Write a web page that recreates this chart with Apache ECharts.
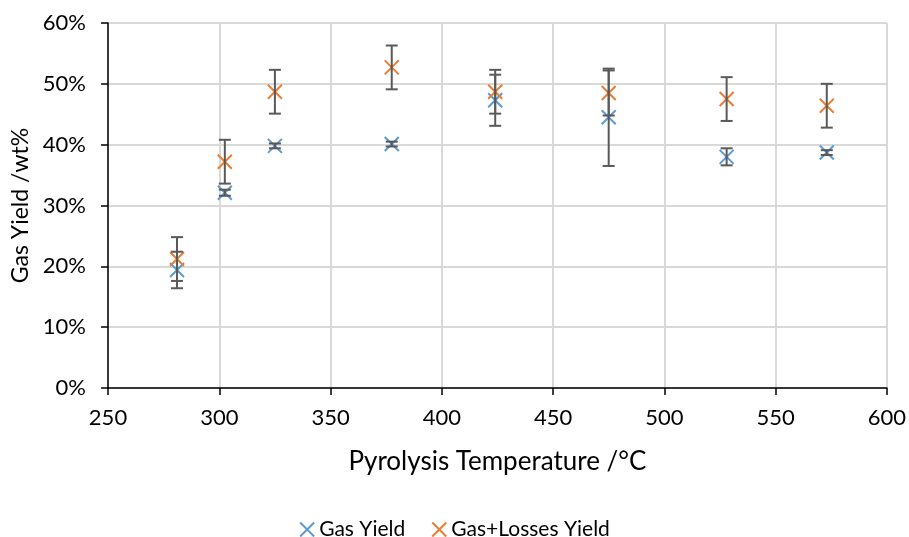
<!DOCTYPE html>
<html>
<head>
<meta charset="utf-8">
<script src="https://cdn.jsdelivr.net/npm/echarts@6/dist/echarts.min.js"></script>
<style>html,body{margin:0;padding:0;background:#fff;}#c{width:909px;height:537px;}</style>
</head>
<body>
<div id="c"></div>
<script>
var temps = [281, 302.5, 325, 377.5, 424, 475, 528, 573];
var gasYield = [19.4, 32.1, 39.8, 40.1, 47.3, 44.5, 38.0, 38.7];
var gasYieldErr = [3.0, 0.5, 0.4, 0.4, 4.2, 8.0, 1.4, 0.4];
var gasLossYield = [21.2, 37.2, 48.7, 52.7, 48.7, 48.5, 47.5, 46.4];
var gasLossErr = [3.6, 3.6, 3.6, 3.6, 3.6, 3.7, 3.6, 3.6];
var xTicks = [250, 300, 350, 400, 450, 500, 550, 600];
var yTicks = [0, 10, 20, 30, 40, 50, 60];

var FONT = 'Lato, "Open Sans", sans-serif';
var BLUE = '#5b9bd5', ORANGE = '#ed7d31', ERR = '#595959';
var XPATH = 'path://M0,0 L10,10 M10,0 L0,10';

function pts(v) { return temps.map(function (t, i) { return [t, v[i]]; }); }
function errData(v, e) { return temps.map(function (t, i) { return [t, v[i] - e[i], v[i] + e[i]]; }); }

function errRender(params, api) {
  var x = api.value(0), lo = api.value(1), hi = api.value(2);
  var pLo = api.coord([x, lo]), pHi = api.coord([x, hi]);
  var hw = 6;
  var st = { stroke: ERR, lineWidth: 2 };
  return {
    type: 'group',
    children: [
      { type: 'line', shape: { x1: pLo[0], y1: pLo[1], x2: pHi[0], y2: pHi[1] }, style: st },
      { type: 'line', shape: { x1: pLo[0] - hw, y1: pLo[1], x2: pLo[0] + hw, y2: pLo[1] }, style: st },
      { type: 'line', shape: { x1: pHi[0] - hw, y1: pHi[1], x2: pHi[0] + hw, y2: pHi[1] }, style: st }
    ]
  };
}

var chart = echarts.init(document.getElementById('c'));
chart.setOption({
  animation: false,
  backgroundColor: '#fff',
  grid: { left: 108, right: 20, top: 23, bottom: 149, containLabel: false },
  xAxis: {
    type: 'value', min: xTicks[0], max: xTicks[xTicks.length - 1], interval: 50,
    name: 'Pyrolysis Temperature /°C', nameLocation: 'middle', nameGap: 61,
    nameTextStyle: { fontFamily: FONT, fontSize: 26, color: '#000' },
    axisLine: { show: true, lineStyle: { color: '#000', width: 1.5 } },
    axisTick: { show: true, length: 7, lineStyle: { color: '#000', width: 1.5 } },
    axisLabel: { fontFamily: FONT, fontSize: 22, color: '#000', margin: 19 },
    splitLine: { show: true, lineStyle: { color: '#d9d9d9', width: 2 } }
  },
  yAxis: {
    type: 'value', min: yTicks[0], max: yTicks[yTicks.length - 1], interval: 10,
    name: 'Gas Yield /wt%', nameLocation: 'middle', nameGap: 70, nameRotate: 90,
    nameTextStyle: { fontFamily: FONT, fontSize: 23, color: '#000' },
    axisLine: { show: true, lineStyle: { color: '#000', width: 1.5 } },
    axisTick: { show: true, length: 7, lineStyle: { color: '#000', width: 1.5 } },
    axisLabel: { fontFamily: FONT, fontSize: 22, color: '#000', margin: 22, formatter: '{value}%' },
    splitLine: { show: true, lineStyle: { color: '#d9d9d9', width: 2 } }
  },
  legend: {
    top: 514, left: 'center', itemGap: 26, itemWidth: 14, itemHeight: 14,
    textStyle: { fontFamily: FONT, fontSize: 21, color: '#000' },
    data: [
      { name: 'Gas Yield', icon: XPATH, itemStyle: { color: 'transparent', borderColor: BLUE, borderWidth: 2 } },
      { name: 'Gas+Losses Yield', icon: XPATH, itemStyle: { color: 'transparent', borderColor: ORANGE, borderWidth: 2 } }
    ]
  },
  series: [
    {
      name: 'Gas Yield', type: 'scatter', data: pts(gasYield), symbol: XPATH, symbolSize: 14, z: 3,
      itemStyle: { color: 'transparent', borderColor: BLUE, borderWidth: 2, opacity: 1 }
    },
    {
      name: 'Gas Yield err', type: 'custom', data: errData(gasYield, gasYieldErr), renderItem: errRender, z: 4,
      encode: { x: 0, y: [1, 2] }, silent: true
    },
    {
      name: 'Gas+Losses Yield', type: 'scatter', data: pts(gasLossYield), symbol: XPATH, symbolSize: 14, z: 3,
      itemStyle: { color: 'transparent', borderColor: ORANGE, borderWidth: 2, opacity: 1 }
    },
    {
      name: 'Gas+Losses err', type: 'custom', data: errData(gasLossYield, gasLossErr), renderItem: errRender, z: 4,
      encode: { x: 0, y: [1, 2] }, silent: true
    }
  ]
});
</script>
</body>
</html>
